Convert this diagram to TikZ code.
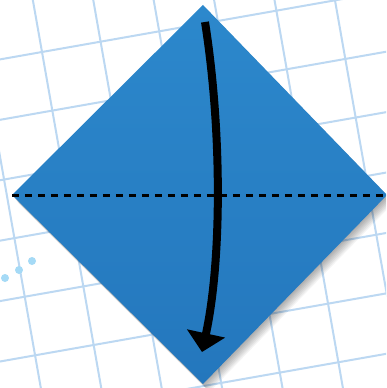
\documentclass[tikz,border=0pt]{standalone}
\usepackage{tikz}
\usetikzlibrary{arrows.meta,calc}
\definecolor{paperblue}{RGB}{44,136,204}
\definecolor{paperdark}{RGB}{36,119,189}
\definecolor{gridblue}{RGB}{188,216,242}
\definecolor{dotblue}{RGB}{165,218,246}

\begin{document}
\begin{tikzpicture}[
  x=0.02cm, y=-0.02cm,
  gridline/.style={draw=gridblue, line width=0.04cm},
  paper/.style={top color=paperblue, bottom color=paperdark},
  papershadow/.style={fill=black, opacity=0.045},
  creaseline/.style={draw=black, line width=0.06cm, dash pattern=on 0.15cm off 0.11cm},
  foldarrow/.style={draw=black, line width=0.16cm, -{Triangle[length=0.38cm, width=0.76cm]}},
  dotmark/.style={fill=dotblue},
]
  \useasboundingbox (0,0) rectangle (386,388);
  \fill[white] (0,0) rectangle (386,388);
  \clip (0,0) rectangle (386,388);

  % Grid paper (tilted)
  \begin{scope}[shift={(42,52)}, rotate=10]
    \foreach \k in {-4,...,9} {
      \draw[gridline] (-300,\k*59.5) -- (700,\k*59.5);
      \draw[gridline] (\k*59.5,-300) -- (\k*59.5,700);
    }
  \end{scope}

  % Dots
  \fill[dotmark] (5,278) circle (0.08cm);
  \fill[dotmark] (19,270) circle (0.08cm);
  \fill[dotmark] (32,261) circle (0.08cm);

  % Corners of the square
  \coordinate (top) at (203,5);
  \coordinate (left) at (12,195);
  \coordinate (right) at (387,195);
  \coordinate (bottom) at (203,384);

  % Soft shadow
  \foreach \s in {1,...,8}
    \fill[papershadow] ($(top)+(\s*0.8,\s)$) -- ($(right)+(\s*0.8,\s)$)
      -- ($(bottom)+(\s*0.8,\s)$) -- ($(left)+(\s*0.8,\s)$) -- cycle;

  % Paper
  \shade[paper] (top) -- (right) -- (bottom) -- (left) -- cycle;

  % Valley fold and arrow
  \draw[creaseline] (left) -- (right);
  \coordinate (arrowtail) at (205,22);
  \coordinate (arrowtip) at (202,352);
  \draw[foldarrow] (arrowtail) .. controls (222,130) and (222,260) .. (arrowtip);
\end{tikzpicture}
\end{document}
